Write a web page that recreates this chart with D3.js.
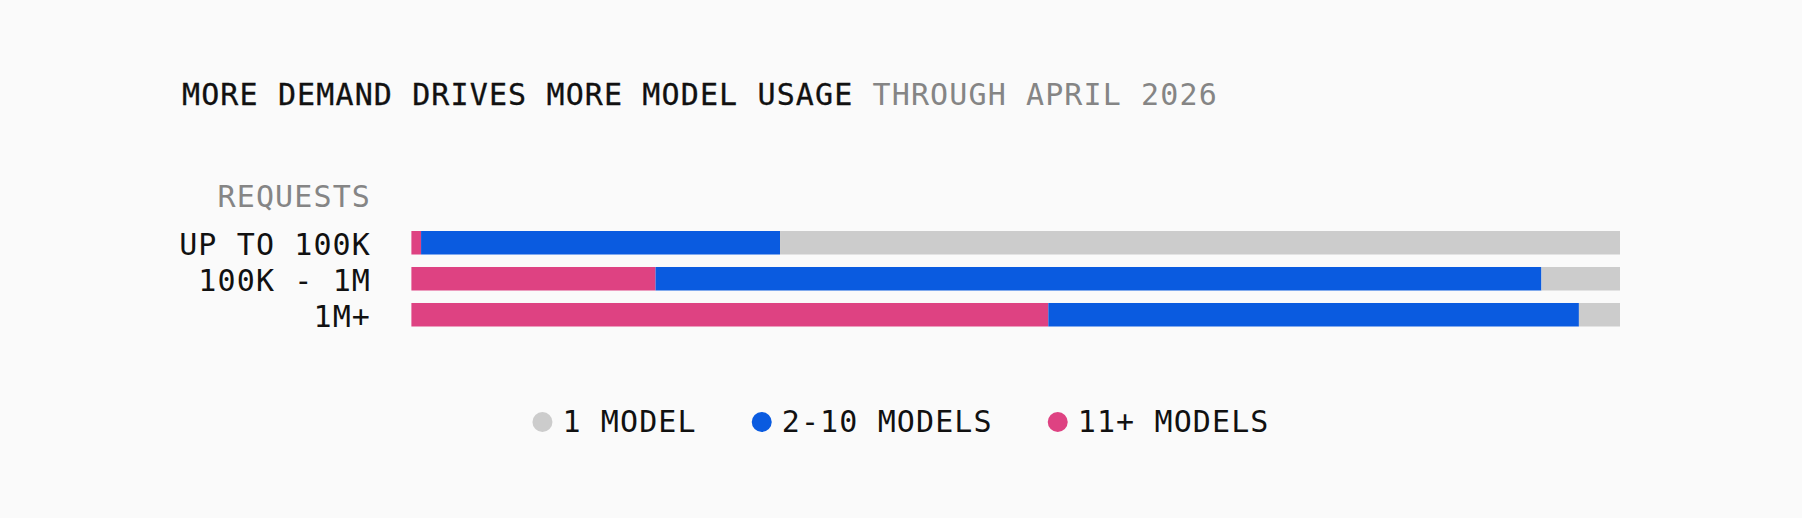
<!DOCTYPE html>
<html>
<head>
<meta charset="utf-8">
<script src="https://cdnjs.cloudflare.com/ajax/libs/d3/7.8.5/d3.min.js"></script>
<style>
  html, body { margin: 0; padding: 0; background: #fafafa; }
  svg text { font-family: "DejaVu Sans Mono", "Liberation Mono", monospace; font-size: 30px; letter-spacing: 1.12px; }
</style>
</head>
<body>
<svg width="1802" height="518"></svg>
<script>
// data (percent of requests)
var categories = ['UP TO 100K', '100K - 1M', '1M+'];
var many = [0.8, 20.2, 52.7];    // 11+ models
var some = [29.7, 73.3, 43.9];   // 2-10 models
var one = [69.5, 6.5, 3.4];      // 1 model
var keys = ['11+ MODELS', '2-10 MODELS', '1 MODEL'];
var legendKeys = ['1 MODEL', '2-10 MODELS', '11+ MODELS'];
var colors = {'1 MODEL': '#cccccc', '2-10 MODELS': '#0a5be0', '11+ MODELS': '#de4282'};

var svg = d3.select('svg');
svg.append('rect').attr('width', 1802).attr('height', 518).attr('fill', '#fafafa');

// title
var t = svg.append('text').attr('x', 182).attr('y', 105);
t.append('tspan').attr('fill', '#111').attr('stroke', '#111').attr('stroke-width', 0.3)
  .text('MORE DEMAND DRIVES MORE MODEL USAGE ');
t.append('tspan').attr('fill', '#858585').text('THROUGH APRIL 2026');

var rows = categories.map(function(c, i){
  return {cat: c, '11+ MODELS': many[i], '2-10 MODELS': some[i], '1 MODEL': one[i]};
});
var stack = d3.stack().keys(keys)(rows);

var x = d3.scaleLinear().domain([0, 100]).range([411.4, 1620]);
var y = d3.scaleBand().domain(categories).range([231, 326.5]).paddingInner(0.347).paddingOuter(0);

svg.append('g').selectAll('g').data(stack).join('g')
  .attr('fill', function(d){ return colors[d.key]; })
  .selectAll('rect').data(function(d){ return d; }).join('rect')
  .attr('x', function(d){ return x(d[0]); })
  .attr('y', function(d){ return y(d.data.cat); })
  .attr('width', function(d){ return x(d[1]) - x(d[0]); })
  .attr('height', y.bandwidth());

// axis label + category labels
svg.append('text').attr('x', 371).attr('y', 207).attr('text-anchor', 'end')
  .attr('fill', '#858585').text('REQUESTS');
svg.append('g').selectAll('text').data(categories).join('text')
  .attr('x', 371).attr('text-anchor', 'end')
  .attr('y', function(d){ return y(d) + y.bandwidth() + 0.5; })
  .attr('fill', '#111').text(function(d){ return d; });

// legend, centred
var lg = svg.append('g');
var items = lg.selectAll('g').data(legendKeys).join('g');
items.append('circle').attr('cx', 10).attr('cy', 422).attr('r', 10)
  .attr('fill', function(d){ return colors[d]; });
items.append('text').attr('x', 30).attr('y', 432).attr('fill', '#111')
  .text(function(d){ return d; });
var pos = 0;
items.each(function(){
  var w = 30 + d3.select(this).select('text').node().getComputedTextLength();
  d3.select(this).attr('transform', 'translate(' + pos + ',0)');
  pos += w + 55;
});
var total = pos - 55;
lg.attr('transform', 'translate(' + (901 - total / 2) + ',0)');
</script>
</body>
</html>
